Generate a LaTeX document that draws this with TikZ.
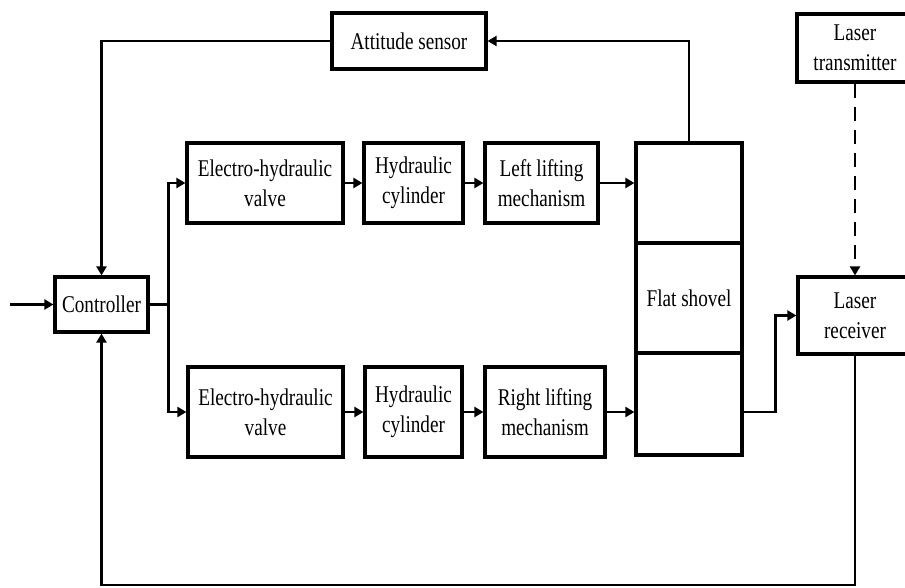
\documentclass[tikz,border=0pt]{standalone}
\usepackage{fontspec}
\setmainfont{Liberation Serif}
\newfontfamily\tallserif{Liberation Serif}[FakeStretch=0.8]
\usetikzlibrary{arrows.meta,calc}

\begin{document}
\begin{tikzpicture}[x=1pt,y=-1pt,
		block/.style={draw, line width=3.2pt, align=center, inner sep=0pt,
			font=\tallserif\fontsize{24}{30}\selectfont},
		arr/.style={line width=2.7pt, -{Triangle[length=9pt,width=10pt]}},
		wire/.style={line width=2.7pt}]

				\useasboundingbox (0,0) rectangle (905,587);

				\def\ya{183}
				\def\yb{412}

				%controller and attitude sensor
				\node[block, minimum width=93pt, minimum height=55pt] (ctrl) at (101.5,304.5) {Controller};
				\node[block, minimum width=154pt, minimum height=56pt] (att) at (409,41) {Attitude sensor};

				%upper branch
				\node[block, minimum width=156pt, minimum height=80pt] (ehvl) at (265,\ya) {Electro-hydraulic\\valve};
				\node[block, minimum width=99pt, minimum height=80pt] (hcl) at (413.5,\ya) {Hydraulic\\cylinder};
				\node[block, minimum width=113pt, minimum height=80pt] (lift) at (541.5,\ya) {Left lifting\\mechanism};

				%lower branch
				\node[block, minimum width=155pt, minimum height=90pt] (ehvr) at (265.5,\yb) {Electro-hydraulic\\valve};
				\node[block, minimum width=97pt, minimum height=90pt] (hcr) at (413.5,\yb) {Hydraulic\\cylinder};
				\node[block, minimum width=120pt, minimum height=90pt] (rift) at (545,\yb) {Right lifting\\mechanism};

				%flat shovel
				\node[block, minimum width=106pt, minimum height=100pt] (shtop) at (689,193) {};
				\node[block, minimum width=106pt, minimum height=110pt] (shmid) at (689,298) {Flat shovel};
				\node[block, minimum width=106pt, minimum height=102pt] (shbot) at (689,404) {};

				%laser
				\node[block, minimum width=116pt, minimum height=68pt] (tx) at (855,48) {Laser\\transmitter};
				\node[block, minimum width=114pt, minimum height=77pt] (rx) at (855,315.5) {Laser\\receiver};

				\coordinate (in) at (10,304.5);
				\coordinate (fb) at (855,585);

				%connectors
				\draw[arr] (in) -- (ctrl.west);
				\draw[arr] (ctrl.east) -- ++(19,0) |- (ehvl.west);
				\draw[arr] (ctrl.east) -- ++(19,0) |- (ehvr.west);
				\draw[arr] (ehvl) -- (hcl);
				\draw[arr] (hcl) -- (lift);
				\draw[arr] (lift.east) -- (lift.east -| shtop.west);
				\draw[arr] (ehvr) -- (hcr);
				\draw[arr] (hcr) -- (rift);
				\draw[arr] (rift.east) -- (rift.east -| shbot.west);

				\draw[arr] (shtop.north) |- (att.east);
				\draw[arr] (att.west) -| (ctrl.north);

				\draw[arr] (rift.east -| shbot.east) -- ++(32,0) |- (rx.west);
				\draw[arr, dash pattern=on 14pt off 9pt] (tx.south) -- (rx.north);
				\draw[arr] (rx.south) -- (fb) -| (ctrl.south);

\end{tikzpicture}
\end{document}
